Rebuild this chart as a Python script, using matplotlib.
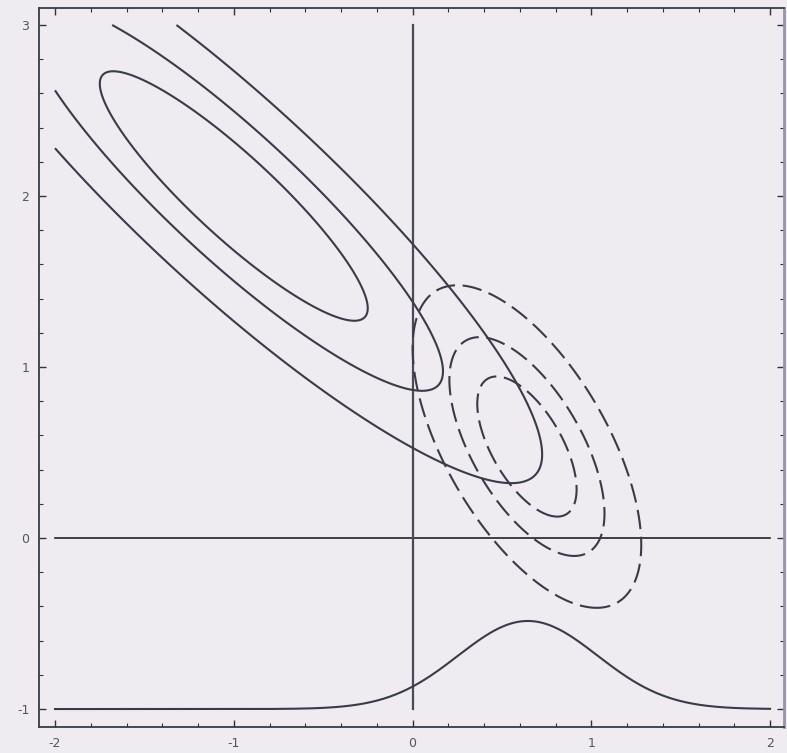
import matplotlib
matplotlib.use("Agg")
import matplotlib.pyplot as plt
import numpy as np

# solid family: wide, strongly correlated gaussian
solid_mean = (-1.0, 2.0)
solid_sd = (0.75, 0.73)
solid_rho = -0.9

# dashed family: narrow gaussian near the origin
dashed_mean = (0.64, 0.535)
dashed_sd = (0.278, 0.41)
dashed_rho = -0.61

# contour heights as fractions of each peak
levels = [0.071, 0.296, 0.607]

# bell curve drawn on the y = -1 baseline
curve_base = -1.0
curve_height = 0.515
curve_center = 0.645
curve_sd = 0.39

x_ticks = [-2, -1, 0, 1, 2]
y_ticks = [-1, 0, 1, 2, 3]

line_color = "#3a3a4a"
bg = "#eeecf0"


def gauss2d(xx, yy, mean, sd, rho):
    u = (xx - mean[0]) / sd[0]
    v = (yy - mean[1]) / sd[1]
    q = (u * u - 2 * rho * u * v + v * v) / (1 - rho * rho)
    return np.exp(-0.5 * q)


plt.rcParams["lines.scale_dashes"] = False
plt.rcParams["axes.unicode_minus"] = False

fig = plt.figure(figsize=(7.87, 7.53), dpi=100, facecolor=bg)
ax = fig.add_axes([39 / 787, 1 - 727 / 753, (784 - 39) / 787, (727 - 8) / 753])
ax.set_facecolor(bg)

gx = np.linspace(-2, 2, 600)
gy = np.linspace(-1, 3, 600)
X, Y = np.meshgrid(gx, gy)

ax.contour(X, Y, gauss2d(X, Y, solid_mean, solid_sd, solid_rho), levels=levels,
           colors=line_color, linewidths=1.5)
ax.contour(X, Y, gauss2d(X, Y, dashed_mean, dashed_sd, dashed_rho), levels=levels,
           colors=line_color, linewidths=1.5, linestyles=[(0, (14, 5.5))])

# axes through the origin
ax.plot([-2, 2], [0, 0], color="#222228", lw=1.2, zorder=1)
ax.plot([0, 0], [-1, 3], color="#4a4a58", lw=1.6, zorder=1)

ax.plot(gx, curve_base + curve_height * np.exp(-0.5 * ((gx - curve_center) / curve_sd) ** 2),
        color=line_color, lw=1.5)

ax.set_xlim(-2.0895, 2.078)
ax.set_ylim(-1.105, 3.0994)

ax.set_xticks(x_ticks)
ax.set_yticks(y_ticks)
ax.set_xticks(np.arange(-2, 2.01, 0.2), minor=True)
ax.set_yticks(np.arange(-1, 3.01, 0.2), minor=True)
ax.tick_params(which="both", direction="in", top=True, right=True,
               color="#333333", labelcolor="#555555", labelsize=9)
ax.tick_params(which="major", length=5, width=1.0, pad=7)
ax.tick_params(which="minor", length=3, width=0.8)

for side in ["left", "bottom", "top"]:
    ax.spines[side].set_color("#3a3a44")
    ax.spines[side].set_linewidth(1.3)
ax.spines["right"].set_color("#9a93a8")
ax.spines["right"].set_linewidth(2.0)

fig.savefig("out.png", dpi=100, facecolor=bg)
